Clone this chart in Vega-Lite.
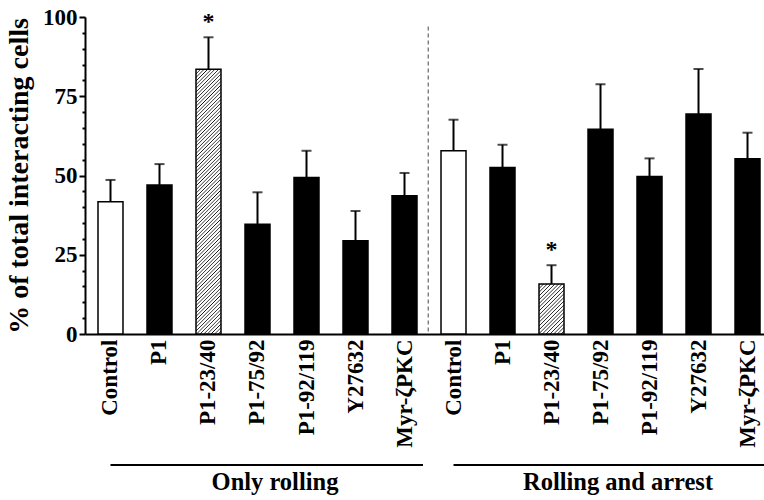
{
  "$schema": "https://vega.github.io/schema/vega-lite/v6.json",
  "width": 679,
  "height": 317,
  "autosize": {"type": "none"},
  "padding": {"left": 85, "top": 17, "right": 0, "bottom": 166},
  "background": "white",
  "config": {
    "view": {"stroke": null},
    "font": "Liberation Serif, Times New Roman, DejaVu Serif, serif",
    "axisY": {"labelOverlap": false, "labelFlush": false, "ticks": true, "tickSize": 6, "tickWidth": 2, "tickColor": "black", "grid": false}
  },
  "resolve": {"axis": {"x": "independent", "y": "independent"}},
  "datasets": {
    "bars": [
      {"id": "01 Control", "name": "Control", "group": "Only rolling", "value": 41.7, "err": 48.6, "sig": ""},
      {"id": "02 P1", "name": "P1", "group": "Only rolling", "value": 47.0, "err": 53.6, "sig": ""},
      {"id": "03 P1-23/40", "name": "P1-23/40", "group": "Only rolling", "value": 83.5, "err": 93.6, "sig": "*"},
      {"id": "04 P1-75/92", "name": "P1-75/92", "group": "Only rolling", "value": 34.6, "err": 44.7, "sig": ""},
      {"id": "05 P1-92/119", "name": "P1-92/119", "group": "Only rolling", "value": 49.4, "err": 57.8, "sig": ""},
      {"id": "06 Y27632", "name": "Y27632", "group": "Only rolling", "value": 29.4, "err": 38.8, "sig": ""},
      {"id": "07 Myr-ζPKC", "name": "Myr-ζPKC", "group": "Only rolling", "value": 43.6, "err": 50.8, "sig": ""},
      {"id": "08 Control", "name": "Control", "group": "Rolling and arrest", "value": 57.8, "err": 67.6, "sig": ""},
      {"id": "09 P1", "name": "P1", "group": "Rolling and arrest", "value": 52.5, "err": 59.7, "sig": ""},
      {"id": "10 P1-23/40", "name": "P1-23/40", "group": "Rolling and arrest", "value": 15.8, "err": 21.7, "sig": "*"},
      {"id": "11 P1-75/92", "name": "P1-75/92", "group": "Rolling and arrest", "value": 64.6, "err": 78.8, "sig": ""},
      {"id": "12 P1-92/119", "name": "P1-92/119", "group": "Rolling and arrest", "value": 49.7, "err": 55.4, "sig": ""},
      {"id": "13 Y27632", "name": "Y27632", "group": "Rolling and arrest", "value": 69.4, "err": 83.6, "sig": ""},
      {"id": "14 Myr-ζPKC", "name": "Myr-ζPKC", "group": "Rolling and arrest", "value": 55.3, "err": 63.5, "sig": ""}
    ],
    "groups": [
      {"label": "Only rolling", "first": "01 Control", "last": "07 Myr-ζPKC", "mid": "04 P1-75/92"},
      {"label": "Rolling and arrest", "first": "08 Control", "last": "14 Myr-ζPKC", "mid": "11 P1-75/92"}
    ]
  },
  "layer": [
    {
      "data": {"name": "bars"},
      "layer": [
        {
          "mark": {"type": "bar", "stroke": "black", "strokeWidth": 1.5},
          "encoding": {
            "x": {
              "field": "id", "type": "nominal",
              "scale": {"paddingInner": 0.49, "paddingOuter": 0.1734, "align": 0.765},
              "axis": {
                "title": null, "labelExpr": "slice(datum.label, 3)", "labelAngle": -90,
                "labelAlign": "right", "labelBaseline": "middle", "labelFontSize": 23,
                "labelFontWeight": "bold", "labelColor": "black", "labelFont": "Liberation Serif, Times New Roman, DejaVu Serif, serif",
                "ticks": false, "labelPadding": 5, "domainColor": "black", "domainWidth": 2,
                "labelOverlap": false, "labelLimit": 0
              }
            },
            "y": {
              "field": "value", "type": "quantitative",
              "scale": {"domain": [0, 100], "nice": false},
              "axis": {
                "title": "% of total interacting cells",
                "values": [0, 25, 50, 75, 100],
                "ticks": true, "tickSize": 6,
                "tickWidth": 2, "tickColor": "black", "domainColor": "black", "domainWidth": 2,
                "grid": false, "labelFontSize": 23, "labelFontWeight": "bold", "labelColor": "black",
                "labelFont": "Liberation Serif, Times New Roman, DejaVu Serif, serif", "labelPadding": 2, "titleFontSize": 28,
                "titleFontWeight": "bold", "titleFont": "Liberation Serif, Times New Roman, DejaVu Serif, serif", "titleColor": "black",
                "titlePadding": 9, "labelOverlap": false, "labelFlush": false
              }
            },
            "fill": {
              "condition": [
                {"test": "datum.id === '03 P1-23/40'", "value": {"gradient": "linear", "x1": 0, "y1": 0, "x2": 0.1025, "y2": 1.0847, "stops": [
                  {"offset":0,"color":"#fff"},{"offset":0.003,"color":"#111"},{"offset":0.006,"color":"#fff"},
                  {"offset":0.0125,"color":"#fff"},{"offset":0.0155,"color":"#111"},{"offset":0.0185,"color":"#fff"},
                  {"offset":0.025,"color":"#fff"},{"offset":0.028,"color":"#111"},{"offset":0.031,"color":"#fff"},
                  {"offset":0.0375,"color":"#fff"},{"offset":0.0405,"color":"#111"},{"offset":0.0435,"color":"#fff"},
                  {"offset":0.05,"color":"#fff"},{"offset":0.053,"color":"#111"},{"offset":0.056,"color":"#fff"},
                  {"offset":0.0625,"color":"#fff"},{"offset":0.0655,"color":"#111"},{"offset":0.0685,"color":"#fff"},
                  {"offset":0.075,"color":"#fff"},{"offset":0.078,"color":"#111"},{"offset":0.081,"color":"#fff"},
                  {"offset":0.0875,"color":"#fff"},{"offset":0.0905,"color":"#111"},{"offset":0.0935,"color":"#fff"},
                  {"offset":0.1,"color":"#fff"},{"offset":0.103,"color":"#111"},{"offset":0.106,"color":"#fff"},
                  {"offset":0.1125,"color":"#fff"},{"offset":0.1155,"color":"#111"},{"offset":0.1185,"color":"#fff"},
                  {"offset":0.125,"color":"#fff"},{"offset":0.128,"color":"#111"},{"offset":0.131,"color":"#fff"},
                  {"offset":0.1375,"color":"#fff"},{"offset":0.1405,"color":"#111"},{"offset":0.1435,"color":"#fff"},
                  {"offset":0.15,"color":"#fff"},{"offset":0.153,"color":"#111"},{"offset":0.156,"color":"#fff"},
                  {"offset":0.1625,"color":"#fff"},{"offset":0.1655,"color":"#111"},{"offset":0.1685,"color":"#fff"},
                  {"offset":0.175,"color":"#fff"},{"offset":0.178,"color":"#111"},{"offset":0.181,"color":"#fff"},
                  {"offset":0.1875,"color":"#fff"},{"offset":0.1905,"color":"#111"},{"offset":0.1935,"color":"#fff"},
                  {"offset":0.2,"color":"#fff"},{"offset":0.203,"color":"#111"},{"offset":0.206,"color":"#fff"},
                  {"offset":0.2125,"color":"#fff"},{"offset":0.2155,"color":"#111"},{"offset":0.2185,"color":"#fff"},
                  {"offset":0.225,"color":"#fff"},{"offset":0.228,"color":"#111"},{"offset":0.231,"color":"#fff"},
                  {"offset":0.2375,"color":"#fff"},{"offset":0.2405,"color":"#111"},{"offset":0.2435,"color":"#fff"},
                  {"offset":0.25,"color":"#fff"},{"offset":0.253,"color":"#111"},{"offset":0.256,"color":"#fff"},
                  {"offset":0.2625,"color":"#fff"},{"offset":0.2655,"color":"#111"},{"offset":0.2685,"color":"#fff"},
                  {"offset":0.275,"color":"#fff"},{"offset":0.278,"color":"#111"},{"offset":0.281,"color":"#fff"},
                  {"offset":0.2875,"color":"#fff"},{"offset":0.2905,"color":"#111"},{"offset":0.2935,"color":"#fff"},
                  {"offset":0.3,"color":"#fff"},{"offset":0.303,"color":"#111"},{"offset":0.306,"color":"#fff"},
                  {"offset":0.3125,"color":"#fff"},{"offset":0.3155,"color":"#111"},{"offset":0.3185,"color":"#fff"},
                  {"offset":0.325,"color":"#fff"},{"offset":0.328,"color":"#111"},{"offset":0.331,"color":"#fff"},
                  {"offset":0.3375,"color":"#fff"},{"offset":0.3405,"color":"#111"},{"offset":0.3435,"color":"#fff"},
                  {"offset":0.35,"color":"#fff"},{"offset":0.353,"color":"#111"},{"offset":0.356,"color":"#fff"},
                  {"offset":0.3625,"color":"#fff"},{"offset":0.3655,"color":"#111"},{"offset":0.3685,"color":"#fff"},
                  {"offset":0.375,"color":"#fff"},{"offset":0.378,"color":"#111"},{"offset":0.381,"color":"#fff"},
                  {"offset":0.3875,"color":"#fff"},{"offset":0.3905,"color":"#111"},{"offset":0.3935,"color":"#fff"},
                  {"offset":0.4,"color":"#fff"},{"offset":0.403,"color":"#111"},{"offset":0.406,"color":"#fff"},
                  {"offset":0.4125,"color":"#fff"},{"offset":0.4155,"color":"#111"},{"offset":0.4185,"color":"#fff"},
                  {"offset":0.425,"color":"#fff"},{"offset":0.428,"color":"#111"},{"offset":0.431,"color":"#fff"},
                  {"offset":0.4375,"color":"#fff"},{"offset":0.4405,"color":"#111"},{"offset":0.4435,"color":"#fff"},
                  {"offset":0.45,"color":"#fff"},{"offset":0.453,"color":"#111"},{"offset":0.456,"color":"#fff"},
                  {"offset":0.4625,"color":"#fff"},{"offset":0.4655,"color":"#111"},{"offset":0.4685,"color":"#fff"},
                  {"offset":0.475,"color":"#fff"},{"offset":0.478,"color":"#111"},{"offset":0.481,"color":"#fff"},
                  {"offset":0.4875,"color":"#fff"},{"offset":0.4905,"color":"#111"},{"offset":0.4935,"color":"#fff"},
                  {"offset":0.5,"color":"#fff"},{"offset":0.503,"color":"#111"},{"offset":0.506,"color":"#fff"},
                  {"offset":0.5125,"color":"#fff"},{"offset":0.5155,"color":"#111"},{"offset":0.5185,"color":"#fff"},
                  {"offset":0.525,"color":"#fff"},{"offset":0.528,"color":"#111"},{"offset":0.531,"color":"#fff"},
                  {"offset":0.5375,"color":"#fff"},{"offset":0.5405,"color":"#111"},{"offset":0.5435,"color":"#fff"},
                  {"offset":0.55,"color":"#fff"},{"offset":0.553,"color":"#111"},{"offset":0.556,"color":"#fff"},
                  {"offset":0.5625,"color":"#fff"},{"offset":0.5655,"color":"#111"},{"offset":0.5685,"color":"#fff"},
                  {"offset":0.575,"color":"#fff"},{"offset":0.578,"color":"#111"},{"offset":0.581,"color":"#fff"},
                  {"offset":0.5875,"color":"#fff"},{"offset":0.5905,"color":"#111"},{"offset":0.5935,"color":"#fff"},
                  {"offset":0.6,"color":"#fff"},{"offset":0.603,"color":"#111"},{"offset":0.606,"color":"#fff"},
                  {"offset":0.6125,"color":"#fff"},{"offset":0.6155,"color":"#111"},{"offset":0.6185,"color":"#fff"},
                  {"offset":0.625,"color":"#fff"},{"offset":0.628,"color":"#111"},{"offset":0.631,"color":"#fff"},
                  {"offset":0.6375,"color":"#fff"},{"offset":0.6405,"color":"#111"},{"offset":0.6435,"color":"#fff"},
                  {"offset":0.65,"color":"#fff"},{"offset":0.653,"color":"#111"},{"offset":0.656,"color":"#fff"},
                  {"offset":0.6625,"color":"#fff"},{"offset":0.6655,"color":"#111"},{"offset":0.6685,"color":"#fff"},
                  {"offset":0.675,"color":"#fff"},{"offset":0.678,"color":"#111"},{"offset":0.681,"color":"#fff"},
                  {"offset":0.6875,"color":"#fff"},{"offset":0.6905,"color":"#111"},{"offset":0.6935,"color":"#fff"},
                  {"offset":0.7,"color":"#fff"},{"offset":0.703,"color":"#111"},{"offset":0.706,"color":"#fff"},
                  {"offset":0.7125,"color":"#fff"},{"offset":0.7155,"color":"#111"},{"offset":0.7185,"color":"#fff"},
                  {"offset":0.725,"color":"#fff"},{"offset":0.728,"color":"#111"},{"offset":0.731,"color":"#fff"},
                  {"offset":0.7375,"color":"#fff"},{"offset":0.7405,"color":"#111"},{"offset":0.7435,"color":"#fff"},
                  {"offset":0.75,"color":"#fff"},{"offset":0.753,"color":"#111"},{"offset":0.756,"color":"#fff"},
                  {"offset":0.7625,"color":"#fff"},{"offset":0.7655,"color":"#111"},{"offset":0.7685,"color":"#fff"},
                  {"offset":0.775,"color":"#fff"},{"offset":0.778,"color":"#111"},{"offset":0.781,"color":"#fff"},
                  {"offset":0.7875,"color":"#fff"},{"offset":0.7905,"color":"#111"},{"offset":0.7935,"color":"#fff"},
                  {"offset":0.8,"color":"#fff"},{"offset":0.803,"color":"#111"},{"offset":0.806,"color":"#fff"},
                  {"offset":0.8125,"color":"#fff"},{"offset":0.8155,"color":"#111"},{"offset":0.8185,"color":"#fff"},
                  {"offset":0.825,"color":"#fff"},{"offset":0.828,"color":"#111"},{"offset":0.831,"color":"#fff"},
                  {"offset":0.8375,"color":"#fff"},{"offset":0.8405,"color":"#111"},{"offset":0.8435,"color":"#fff"},
                  {"offset":0.85,"color":"#fff"},{"offset":0.853,"color":"#111"},{"offset":0.856,"color":"#fff"},
                  {"offset":0.8625,"color":"#fff"},{"offset":0.8655,"color":"#111"},{"offset":0.8685,"color":"#fff"},
                  {"offset":0.875,"color":"#fff"},{"offset":0.878,"color":"#111"},{"offset":0.881,"color":"#fff"},
                  {"offset":0.8875,"color":"#fff"},{"offset":0.8905,"color":"#111"},{"offset":0.8935,"color":"#fff"},
                  {"offset":0.9,"color":"#fff"},{"offset":0.903,"color":"#111"},{"offset":0.906,"color":"#fff"},
                  {"offset":0.9125,"color":"#fff"},{"offset":0.9155,"color":"#111"},{"offset":0.9185,"color":"#fff"},
                  {"offset":0.925,"color":"#fff"},{"offset":0.928,"color":"#111"},{"offset":0.931,"color":"#fff"},
                  {"offset":0.9375,"color":"#fff"},{"offset":0.9405,"color":"#111"},{"offset":0.9435,"color":"#fff"},
                  {"offset":0.95,"color":"#fff"},{"offset":0.953,"color":"#111"},{"offset":0.956,"color":"#fff"},
                  {"offset":0.9625,"color":"#fff"},{"offset":0.9655,"color":"#111"},{"offset":0.9685,"color":"#fff"},
                  {"offset":0.975,"color":"#fff"},{"offset":0.978,"color":"#111"},{"offset":0.981,"color":"#fff"},
                  {"offset":0.9875,"color":"#fff"},{"offset":0.9905,"color":"#111"},{"offset":0.9935,"color":"#fff"},
                  {"offset":1,"color":"#fff"}
                ]}},
                {"test": "datum.id === '10 P1-23/40'", "value": {"gradient": "linear", "x1": 0, "y1": 0, "x2": 0.5989, "y2": 1.2001, "stops": [
                  {"offset":0,"color":"#fff"},{"offset":0.012,"color":"#111"},{"offset":0.024,"color":"#fff"},
                  {"offset":0.05,"color":"#fff"},{"offset":0.062,"color":"#111"},{"offset":0.074,"color":"#fff"},
                  {"offset":0.1,"color":"#fff"},{"offset":0.112,"color":"#111"},{"offset":0.124,"color":"#fff"},
                  {"offset":0.15,"color":"#fff"},{"offset":0.162,"color":"#111"},{"offset":0.174,"color":"#fff"},
                  {"offset":0.2,"color":"#fff"},{"offset":0.212,"color":"#111"},{"offset":0.224,"color":"#fff"},
                  {"offset":0.25,"color":"#fff"},{"offset":0.262,"color":"#111"},{"offset":0.274,"color":"#fff"},
                  {"offset":0.3,"color":"#fff"},{"offset":0.312,"color":"#111"},{"offset":0.324,"color":"#fff"},
                  {"offset":0.35,"color":"#fff"},{"offset":0.362,"color":"#111"},{"offset":0.374,"color":"#fff"},
                  {"offset":0.4,"color":"#fff"},{"offset":0.412,"color":"#111"},{"offset":0.424,"color":"#fff"},
                  {"offset":0.45,"color":"#fff"},{"offset":0.462,"color":"#111"},{"offset":0.474,"color":"#fff"},
                  {"offset":0.5,"color":"#fff"},{"offset":0.512,"color":"#111"},{"offset":0.524,"color":"#fff"},
                  {"offset":0.55,"color":"#fff"},{"offset":0.562,"color":"#111"},{"offset":0.574,"color":"#fff"},
                  {"offset":0.6,"color":"#fff"},{"offset":0.612,"color":"#111"},{"offset":0.624,"color":"#fff"},
                  {"offset":0.65,"color":"#fff"},{"offset":0.662,"color":"#111"},{"offset":0.674,"color":"#fff"},
                  {"offset":0.7,"color":"#fff"},{"offset":0.712,"color":"#111"},{"offset":0.724,"color":"#fff"},
                  {"offset":0.75,"color":"#fff"},{"offset":0.762,"color":"#111"},{"offset":0.774,"color":"#fff"},
                  {"offset":0.8,"color":"#fff"},{"offset":0.812,"color":"#111"},{"offset":0.824,"color":"#fff"},
                  {"offset":0.85,"color":"#fff"},{"offset":0.862,"color":"#111"},{"offset":0.874,"color":"#fff"},
                  {"offset":0.9,"color":"#fff"},{"offset":0.912,"color":"#111"},{"offset":0.924,"color":"#fff"},
                  {"offset":0.95,"color":"#fff"},{"offset":0.962,"color":"#111"},{"offset":0.974,"color":"#fff"},
                  {"offset":1,"color":"#fff"}
                ]}},
                {"test": "datum.name === 'Control'", "value": "white"}
              ],
              "value": "black"
            }
          }
        },
        {
          "mark": {"type": "rule", "strokeWidth": 2, "color": "black"},
          "encoding": {
            "x": {"field": "id", "type": "nominal"},
            "y": {"field": "value", "type": "quantitative"},
            "y2": {"field": "err"}
          }
        },
        {
          "mark": {"type": "tick", "size": 10, "thickness": 2, "color": "black"},
          "encoding": {
            "x": {"field": "id", "type": "nominal"},
            "y": {"field": "err", "type": "quantitative"}
          }
        },
        {
          "mark": {"type": "text", "dy": -8, "fontSize": 24, "fontWeight": "bold", "baseline": "alphabetic", "align": "center", "color": "black", "font": "Liberation Serif, Times New Roman, DejaVu Serif, serif"},
          "encoding": {
            "x": {"field": "id", "type": "nominal"},
            "y": {"field": "err", "type": "quantitative"},
            "text": {"field": "sig"}
          }
        }
      ]
    },
    {
      "data": {"values": [{}]},
      "mark": {"type": "rule", "strokeDash": [4, 3], "color": "#666", "strokeWidth": 1.2},
      "encoding": {
        "x": {"datum": "07 Myr-ζPKC", "type": "nominal", "bandPosition": 1.45, "axis": null},
        "y": {"datum": 97, "type": "quantitative", "axis": {"orient": "left", "values": [5, 10, 15, 20, 30, 35, 40, 45, 55, 60, 65, 70, 80, 85, 90, 95], "labels": false, "title": null, "domain": false, "ticks": true, "tickSize": 3, "tickWidth": 2, "tickColor": "black", "grid": false}},
        "y2": {"datum": 0}
      }
    },
    {
      "data": {"name": "groups"},
      "layer": [
        {
          "mark": {"type": "rule", "strokeWidth": 2, "color": "black"},
          "encoding": {
            "x": {"field": "first", "type": "nominal", "axis": null},
            "x2": {"field": "last", "bandPosition": 1.24},
            "y": {"datum": -41.3, "type": "quantitative", "axis": null}
          }
        },
        {
          "mark": {"type": "text", "fontSize": 24.5, "fontWeight": "bold", "baseline": "alphabetic", "align": "center", "color": "black", "font": "Liberation Serif, Times New Roman, DejaVu Serif, serif"},
          "encoding": {
            "x": {"field": "mid", "type": "nominal", "bandPosition": 1.2, "axis": null},
            "y": {"datum": -49.2, "type": "quantitative", "axis": null},
            "text": {"field": "label"}
          }
        }
      ]
    }
  ]
}
